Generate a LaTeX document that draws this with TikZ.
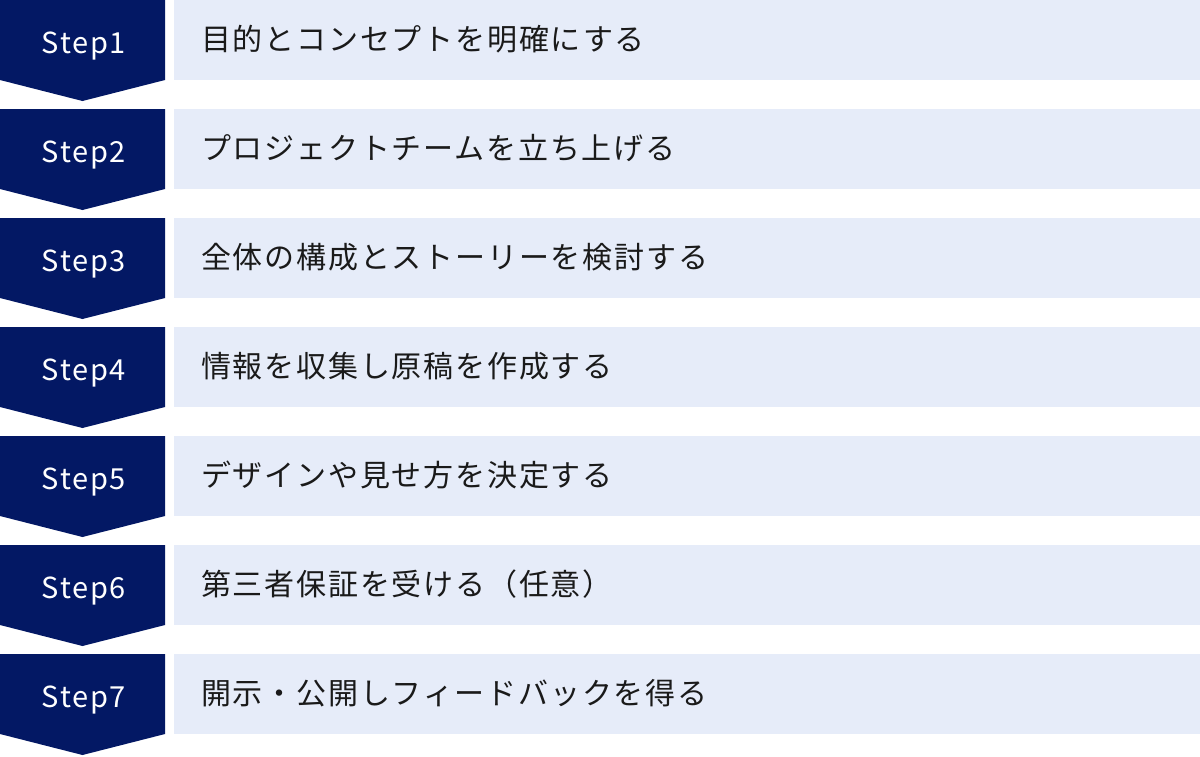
\documentclass[tikz,border=0pt]{standalone}
\usepackage{fontspec}
\setmainfont{Noto Sans CJK JP}
\newfontfamily\jpfont[LetterSpace=6]{Noto Sans CJK JP}
\newfontfamily\stepfont[LetterSpace=6]{Noto Sans CJK JP}
\definecolor{navy}{HTML}{031864}
\definecolor{lightbox}{HTML}{E6ECF9}
\definecolor{txt}{HTML}{1A1A1A}
\begin{document}
\begin{tikzpicture}[x=1pt,y=-1pt,
  stepshape/.style={fill=navy,draw=none},
  barshape/.style={fill=lightbox,draw=none},
  steplabel/.style={text=white,inner sep=0pt,anchor=base,font=\stepfont\fontsize{29}{36}\selectfont},
  itemlabel/.style={text=txt,inner sep=0pt,anchor=base west,font=\jpfont\fontsize{30}{36}\selectfont}]
\useasboundingbox[fill=white] (0,0) rectangle (1200,756);
\foreach \i/\t in {1/目的とコンセプトを明確にする,
                   2/プロジェクトチームを立ち上げる,
                   3/全体の構成とストーリーを検討する,
                   4/情報を収集し原稿を作成する,
                   5/デザインや見せ方を決定する,
                   6/第三者保証を受ける（任意）,
                   7/開示・公開しフィードバックを得る}{
  \pgfmathsetmacro{\top}{(\i-1)*109}
  \fill[barshape] (174,\top) rectangle (1200,\top+80);
  \fill[stepshape] (0,\top) -- (165,\top) -- (165,\top+80) -- (82.5,\top+101) -- (0,\top+80) -- cycle;
  \node[steplabel] (s\i) at (84,\top+53) {Step\i};
  \node[itemlabel] (t\i) at (201,\top+50) {\t};
}
\end{tikzpicture}
\end{document}
